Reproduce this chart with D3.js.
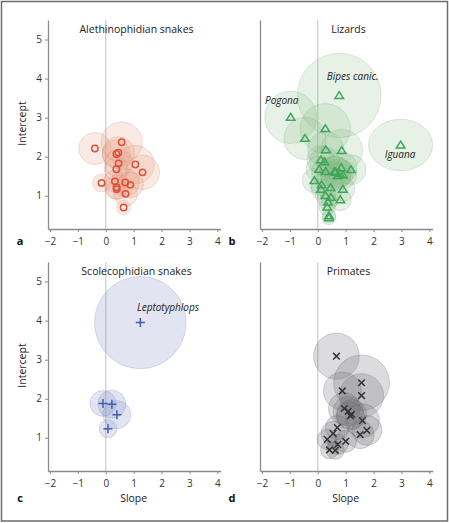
<!DOCTYPE html>
<html><head><meta charset="utf-8">
<script src="https://cdn.jsdelivr.net/npm/d3@7/dist/d3.min.js"></script>
<style>body{margin:0;background:#fff}svg{display:block}text{font-family:"Open Sans","Noto Sans",sans-serif}</style>
</head><body>
<svg id="c" width="449" height="523"></svg>
<script>
// [slope, intercept, SE slope, SE intercept]
const alethinophidian = [
  [-0.39,2.21,0.58,0.41],[0.57,2.37,0.74,0.52],[0.38,2.07,0.50,0.36],[0.45,2.10,0.58,0.41],
  [0.46,1.83,0.50,0.36],[0.38,1.68,0.43,0.31],[1.06,1.80,0.68,0.49],[1.32,1.60,0.61,0.44],
  [-0.15,1.33,0.32,0.23],[0.33,1.37,0.40,0.28],[0.39,1.22,0.43,0.31],[0.39,1.17,0.36,0.26],
  [0.70,1.34,0.50,0.36],[0.88,1.28,0.47,0.33],[0.71,1.05,0.43,0.31],[0.64,0.70,0.25,0.18]
];
const lizards = [
  [0.77,3.57,1.50,1.08],[-0.97,3.01,0.93,0.67],[0.27,2.72,0.90,0.64],[-0.46,2.47,0.75,0.54],
  [2.97,2.30,1.15,0.66],[0.29,2.18,0.65,0.46],[0.86,2.16,0.75,0.54],[0.11,1.92,0.50,0.36],
  [0.24,1.87,0.54,0.38],[0.05,1.68,0.47,0.33],[0.28,1.62,0.50,0.36],[0.64,1.60,0.57,0.41],
  [0.84,1.72,0.57,0.41],[0.90,1.54,0.50,0.36],[1.19,1.67,0.54,0.38],[0.72,1.52,0.47,0.33],
  [0.60,1.63,0.54,0.38],[0.78,1.58,0.50,0.36],
  [-0.12,1.39,0.43,0.31],[0.14,1.28,0.39,0.28],[0.46,1.21,0.47,0.33],[0.12,1.17,0.36,0.26],
  [0.90,1.17,0.43,0.31],[0.28,1.01,0.36,0.26],[0.47,0.96,0.36,0.26],[0.81,0.90,0.39,0.28],
  [0.37,0.84,0.32,0.23],[0.34,0.71,0.29,0.21],[0.40,0.49,0.25,0.18],[0.40,0.44,0.25,0.18]
];
const scolecophidian = [
  [1.24,3.95,1.64,1.18],[-0.10,1.88,0.47,0.33],[0.22,1.86,0.50,0.36],[0.40,1.59,0.50,0.36],[0.08,1.23,0.32,0.23]
];
const primates = [
  [0.67,3.09,0.82,0.59],[1.57,2.41,1.00,0.71],[0.88,2.20,0.68,0.48],[1.57,2.08,0.79,0.56],
  [0.95,1.75,0.57,0.41],[1.09,1.68,0.54,0.38],[1.21,1.60,0.54,0.38],[1.17,1.56,0.50,0.36],
  [1.60,1.44,0.61,0.43],[0.70,1.26,0.43,0.31],[0.55,1.11,0.43,0.31],[1.76,1.19,0.54,0.38],
  [1.52,1.08,0.50,0.36],[0.34,0.96,0.36,0.26],[1.00,0.91,0.39,0.28],[0.72,0.83,0.36,0.26],
  [0.42,0.69,0.32,0.23],[0.63,0.68,0.32,0.23]
];
const xTicks = [-2,-1,0,1,2,3,4];
const yTicks = [1,2,3,4,5];
const panelTitles = ["Alethinophidian snakes","Lizards","Scolecophidian snakes","Primates"];
const panelLetters = ["a","b","c","d"];
const lizardLabels = [["Bipes canic.",1.25,3.96],["Pogona",-1.29,3.35],["Iguana",2.95,1.97]];
const scoleLabels = [["Leptotyphlops",2.23,4.25]];

const svg = d3.select("#c");
svg.append("rect").attr("x",1.5).attr("y",1.5).attr("width",446).attr("height",519.5)
  .attr("fill","none").attr("stroke","#6b6b6b").attr("stroke-width",1.5);

const x = d3.scaleLinear().domain([-2.07,4.12]).range([48,220.7]);
const y = d3.scaleLinear().domain([0.15,5.5]).range([229,20]);

const panels = [
  {data:alethinophidian, dx:0, dy:0, fill:"rgba(228,150,118,0.2)", stroke:"rgba(205,130,105,0.25)", mark:"circle", color:"#e0503a", labels:[], ylab:true, xlab:false},
  {data:lizards, dx:212, dy:0, fill:"rgba(125,185,125,0.19)", stroke:"rgba(110,160,110,0.22)", mark:"tri", color:"#3fa65a", labels:lizardLabels, ylab:false, xlab:false},
  {data:scolecophidian, dx:0, dy:242, fill:"rgba(140,150,200,0.25)", stroke:"rgba(120,130,180,0.25)", mark:"plus", color:"#3d5fae", labels:scoleLabels, ylab:true, xlab:true},
  {data:primates, dx:212, dy:242, fill:"rgba(110,110,115,0.24)", stroke:"rgba(90,90,95,0.25)", mark:"x", color:"#333", labels:[], ylab:false, xlab:true}
];

panels.forEach((p,i)=>{
  const g = svg.append("g").attr("transform",`translate(${p.dx},${p.dy})`);
  g.append("line").attr("x1",x(0)).attr("x2",x(0)).attr("y1",y.range()[1]).attr("y2",y.range()[0])
    .attr("stroke","#cfcfcf").attr("stroke-width",1.3);
  const xa = g.append("g").attr("transform",`translate(0,${y.range()[0]})`)
    .call(d3.axisBottom(x).tickValues(xTicks).tickSize(3).tickSizeOuter(0).tickFormat(d=>d<0?"\u2212"+Math.abs(d):String(d)));
  const ya = g.append("g").attr("transform",`translate(${x.range()[0]},0)`)
    .call(d3.axisLeft(y).tickValues(yTicks).tickSize(p.ylab?3:0).tickSizeOuter(0).tickFormat(d=>String(d)));
  if(!p.ylab) ya.selectAll(".tick text").remove();
  [xa,ya].forEach(a=>{
    a.select(".domain").attr("stroke","#8a8a8a").attr("stroke-width",1.3);
    a.selectAll(".tick line").attr("stroke","#8a8a8a");
    a.selectAll(".tick text").attr("fill","#333").attr("font-size",10);
  });
  xa.selectAll(".tick text").attr("dy","0.95em");
  g.append("text").attr("x",136.5).attr("y",y.range()[1]+13).attr("text-anchor","middle")
    .attr("font-size",10.5).attr("fill","#222").text(panelTitles[i]);
  g.append("text").attr("x",20).attr("y",y.range()[0]+(p.xlab?31:16)).attr("text-anchor","middle")
    .attr("font-size",11).attr("font-weight","bold").attr("fill","#111").text(panelLetters[i]);
  if(p.ylab) g.append("text").attr("transform",`translate(26,${y(2.85)}) rotate(-90)`).attr("text-anchor","middle")
    .attr("font-size",10.5).attr("fill","#222").text("Intercept");
  if(p.xlab) g.append("text").attr("x",x(1)).attr("y",y.range()[0]+31).attr("text-anchor","middle")
    .attr("font-size",10.5).attr("fill","#222").text("Slope");
  g.append("g").selectAll("ellipse").data(p.data).join("ellipse")
    .attr("cx",d=>x(d[0])).attr("cy",d=>y(d[1]))
    .attr("rx",d=>x(d[2])-x(0)).attr("ry",d=>y(0)-y(d[3]))
    .attr("fill",p.fill).attr("stroke",p.stroke).attr("stroke-width",1);
  const m = g.append("g").attr("fill","none").attr("stroke",p.color).attr("stroke-width",1.5);
  p.data.forEach(d=>{
    const cx=x(d[0]), cy=y(d[1]);
    if(p.mark==="circle") m.append("circle").attr("cx",cx).attr("cy",cy).attr("r",3.2);
    else if(p.mark==="tri") m.append("path").attr("d",`M${cx},${cy-3.8}L${cx+4.3},${cy+3}L${cx-4.3},${cy+3}Z`);
    else if(p.mark==="plus") m.append("path").attr("d",`M${cx-4.5},${cy}H${cx+4.5}M${cx},${cy-4.5}V${cy+4.5}`);
    else m.append("path").attr("d",`M${cx-3.3},${cy-3.3}L${cx+3.3},${cy+3.3}M${cx-3.3},${cy+3.3}L${cx+3.3},${cy-3.3}`);
  });
  p.labels.forEach(l=>{
    g.append("text").attr("x",x(l[1])).attr("y",y(l[2])).attr("text-anchor","middle")
      .attr("font-size",10).attr("font-style","italic").attr("fill","#222").text(l[0]);
  });
});
</script>
</body></html>
